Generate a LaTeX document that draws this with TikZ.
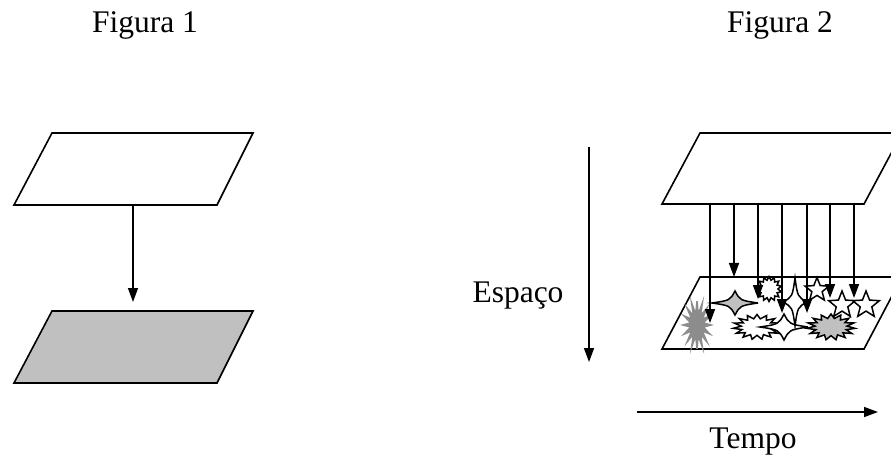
\documentclass[tikz,border=0pt]{standalone}
\usepackage{fontspec}
\setmainfont{Liberation Serif}
\usetikzlibrary{arrows.meta,shapes.geometric}
\definecolor{PlaneGray}{HTML}{C0C0C0}
\definecolor{SparkGray}{HTML}{8C8C8C}

\begin{document}
\begin{tikzpicture}[x=1pt,y=-1pt,
  plane/.style={draw=black,line width=1.6pt,line join=miter},
  drop/.style={-{Triangle[length=14pt,width=10pt]},line width=1.5pt},
  caption/.style={font=\fontsize{31.5}{34}\selectfont,anchor=base,inner sep=0pt},
  burst/.style={star,star points=15,star point ratio=1.5,draw=black,line width=1.5pt,inner sep=0pt},
  starfive/.style={star,star points=5,star point ratio=2.3,draw=black,fill=white,line width=1.5pt,inner sep=0pt},
  sparkle/.pic={\draw[pic actions] (1,0) .. controls (0.22,0.22) .. (0,1) .. controls (-0.22,0.22) .. (-1,0) .. controls (-0.22,-0.22) .. (0,-1) .. controls (0.22,-0.22) .. cycle;}
]
  \useasboundingbox (0,0) rectangle (891,470);
  \clip (0,0) rectangle (891,470);

  % Figura 1
  \coordinate (a1) at (52,133);  \coordinate (a2) at (253,133);
  \coordinate (a3) at (217,205); \coordinate (a4) at (14,205);
  \coordinate (b1) at (52,311);  \coordinate (b2) at (253,311);
  \coordinate (b3) at (217,383); \coordinate (b4) at (14,383);
  \draw[plane,fill=white] (a1) -- (a2) -- (a3) -- (a4) -- cycle;
  \draw[plane,fill=PlaneGray] (b1) -- (b2) -- (b3) -- (b4) -- cycle;
  \coordinate (p0) at (133,205);
  \coordinate (q0) at (133,302);
  \draw[drop] (p0) -- (q0);

  % Figura 2
  \coordinate (c1) at (700,133); \coordinate (c2) at (902,133);
  \coordinate (c3) at (864,204); \coordinate (c4) at (662,204);
  \coordinate (d1) at (700,277); \coordinate (d2) at (902,277);
  \coordinate (d3) at (864,349); \coordinate (d4) at (662,349);
  \draw[plane,fill=white] (c1) -- (c2) -- (c3) -- (c4) -- cycle;
  \draw[plane,fill=white] (d1) -- (d2) -- (d3) -- (d4) -- cycle;

  % objetos no plano
  \node[star,star points=16,star point ratio=2.2,fill=SparkGray,draw=SparkGray,line width=1.5pt,
        inner sep=0pt,minimum size=28pt,yscale=1.7] (o1) at (697,325) {};
  \pic[draw=black,fill=PlaneGray,line width=1.5pt,xscale=23,yscale=12] at (735,303) {sparkle};
  \node[burst,fill=white,star points=14,star point ratio=1.4,minimum size=25pt] (o3) at (769,289) {};
  \node[starfive,minimum size=25pt] (o5) at (817,290) {};
  \node[starfive,minimum size=28pt] (o6) at (842,305) {};
  \node[starfive,minimum size=28pt] (o7) at (866,305) {};
  \node[burst,fill=white,minimum size=25pt,xscale=1.9] (o8) at (757,327) {};
  \pic[draw=black,fill=white,line width=1.5pt,xscale=24,yscale=13] at (784,327) {sparkle};
  \node[burst,fill=PlaneGray,minimum size=26pt,xscale=1.85] (o10) at (831,327) {};
  \pic[draw=black,fill=white,line width=1.5pt,xscale=12,yscale=24] at (795,302) {sparkle};

  \foreach \x/\y [count=\i] in {710/323,734/277,758/299,782/313,807/313,830/298,854/298} {
    \coordinate (s\i) at (\x,204);
    \coordinate (t\i) at (\x,\y);
    \draw[drop] (s\i) -- (t\i);
  }

  % eixos
  \coordinate (spA) at (589,147);
  \coordinate (spB) at (589,362);
  \draw[drop] (spA) -- (spB);
  \coordinate (tmA) at (637,412);
  \coordinate (tmB) at (878,412);
  \draw[drop] (tmA) -- (tmB);

  % textos
  \node[caption] (fig1) at (145,33) {Figura 1};
  \node[caption] (fig2) at (780,33) {Figura 2};
  \node[caption] (space) at (518,302) {Espaço};
  \node[caption] (time) at (753,448) {Tempo};
\end{tikzpicture}
\end{document}
